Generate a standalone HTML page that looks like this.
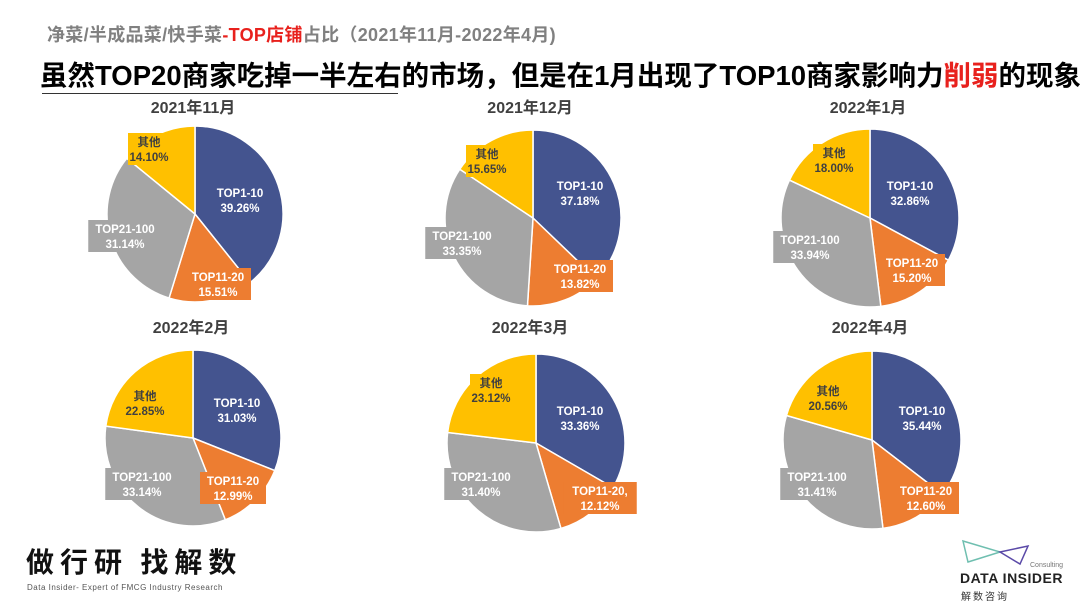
<!DOCTYPE html>
<html><head><meta charset="utf-8"><style>
body{margin:0;width:1080px;height:608px;background:#fff;overflow:hidden;font-family:"Liberation Sans","Noto Sans CJK SC",sans-serif;}
.a{position:absolute;white-space:nowrap}
</style></head><body>
<div class="a" style="left:47px;top:21px;font-size:18px;font-weight:bold;color:#808080;letter-spacing:0.3px">净菜/半成品菜/快手菜<span style="color:#e8211d">-TOP店铺</span>占比（2021年11月-2022年4月)</div>
<div class="a" style="left:40px;top:53px;font-size:27.5px;font-weight:bold;color:#000;letter-spacing:0px">虽然TOP20商家吃掉一半左右的市场，但是在1月出现了TOP10商家影响力<span style="color:#e8211d">削弱</span>的现象</div>
<div class="a" style="left:42px;top:93px;width:356px;height:1px;background:#333"></div>
<svg id="s" class="a" style="left:0;top:0" width="1080" height="608"></svg>
<div class="a" style="left:26px;top:541px;font-size:28px;font-weight:bold;color:#111;letter-spacing:6px;font-family:'Noto Sans CJK SC',sans-serif">做行研 找解数</div>
<div class="a" style="left:27px;top:583px;font-size:8px;color:#555;letter-spacing:0.5px">Data Insider- Expert of FMCG Industry Research</div>
<svg class="a" style="left:960px;top:538px" width="80" height="30"><path d="M3,3 L8,24 L40,14 Z" fill="none" stroke="#6fbfb0" stroke-width="1.5"/><path d="M40,14 L68,8 L60,26 Z" fill="none" stroke="#5b4aa8" stroke-width="1.5"/></svg>
<div class="a" style="left:1030px;top:562px;font-size:7px;color:#777">Consulting</div>
<div class="a" style="left:960px;top:570px;font-size:14px;font-weight:bold;color:#222;letter-spacing:0.5px">DATA INSIDER</div>
<div class="a" style="left:961px;top:588px;font-size:10px;color:#333;letter-spacing:2px">解数咨询</div>
<script>
var C=["#44548f","#ed7d31","#a5a5a5","#ffc000"];
var P=[
{t:"2021年11月",tx:193,ty:113,cx:195,cy:214,r:88,v:[39.26,15.51,31.14,14.10],L:[[240,200],[218,284],[125,236],[149,149]]},
{t:"2021年12月",tx:530,ty:113,cx:533,cy:218,r:88,v:[37.18,13.82,33.35,15.65],L:[[580,193],[580,276],[462,243],[487,161]]},
{t:"2022年1月",tx:868,ty:113,cx:870,cy:218,r:89,v:[32.86,15.20,33.94,18.00],L:[[910,193],[912,270],[810,247],[834,160]]},
{t:"2022年2月",tx:191,ty:333,cx:193,cy:438,r:88,v:[31.03,12.99,33.14,22.85],L:[[237,410],[233,488],[142,484],[145,403]]},
{t:"2022年3月",tx:530,ty:333,cx:536,cy:443,r:89,v:[33.36,12.12,31.40,23.12],L:[[580,418],[600,498],[481,484],[491,390]]},
{t:"2022年4月",tx:870,ty:333,cx:872,cy:440,r:89,v:[35.44,12.60,31.41,20.56],L:[[922,418],[926,498],[817,484],[828,398]]}];
var N=["TOP1-10","TOP11-20","TOP21-100","其他"];
var h="";
P.forEach(function(p,pi){
 h+='<text x="'+p.tx+'" y="'+p.ty+'" font-size="16" font-weight="bold" fill="#404040" text-anchor="middle">'+p.t+'</text>';
 var a=0,sum=p.v.reduce(function(x,y){return x+y},0);
 p.v.forEach(function(v,i){
  var a0=a/sum*2*Math.PI;a+=v;var a1=a/sum*2*Math.PI;
  var x0=p.cx+p.r*Math.sin(a0),y0=p.cy-p.r*Math.cos(a0),x1=p.cx+p.r*Math.sin(a1),y1=p.cy-p.r*Math.cos(a1);
  h+='<path d="M'+p.cx+','+p.cy+'L'+x0+','+y0+'A'+p.r+','+p.r+' 0 '+((a1-a0)>Math.PI?1:0)+' 1 '+x1+','+y1+'Z" fill="'+C[i]+'" stroke="#fff" stroke-width="1.5"/>';
 });
 p.v.forEach(function(v,i){
  var l=p.L[i],n=N[i];if(pi==4&&i==1)n="TOP11-20,";
  var w=i==3?42:(n.length*7.5+6);
  h+='<rect x="'+(l[0]-w/2)+'" y="'+(l[1]-16)+'" width="'+w+'" height="32" fill="'+C[i]+'"/>';
  var f=i==3?"#404040":"#fff";
  h+='<text x="'+l[0]+'" y="'+(l[1]-3)+'" font-size="11.5" font-weight="bold" fill="'+f+'" text-anchor="middle">'+n+'</text>';
  h+='<text x="'+l[0]+'" y="'+(l[1]+12)+'" font-size="11.5" font-weight="bold" fill="'+f+'" text-anchor="middle">'+v.toFixed(2)+'%</text>';
 });
});
document.getElementById("s").innerHTML=h;
</script>
</body></html>
